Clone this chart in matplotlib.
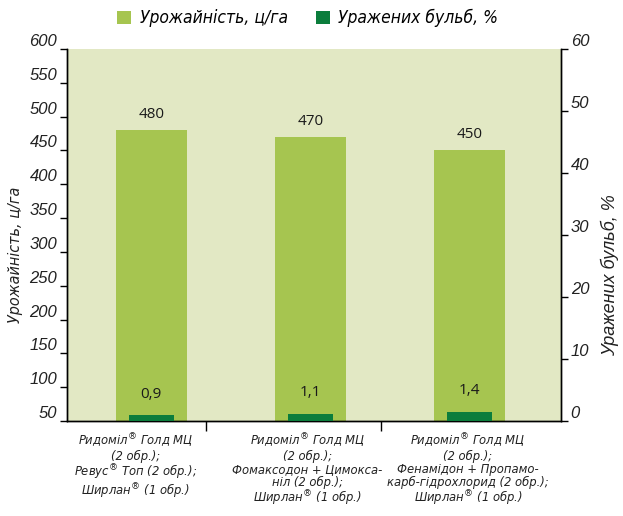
import matplotlib
matplotlib.use("Agg")
import matplotlib.pyplot as plt
from matplotlib.patches import Patch
import numpy as np

categories = [
    "Ридоміл$^{\\circledR}$ Голд МЦ\n(2 обр.);\nРевус$^{\\circledR}$ Топ (2 обр.);\nШирлан$^{\\circledR}$ (1 обр.)",
    "Ридоміл$^{\\circledR}$ Голд МЦ\n(2 обр.);\nФомаксодон + Цимокса-\nніл (2 обр.);\nШирлан$^{\\circledR}$ (1 обр.)",
    "Ридоміл$^{\\circledR}$ Голд МЦ\n(2 обр.);\nФенамідон + Пропамо-\nкарб-гідрохлорид (2 обр.);\nШирлан$^{\\circledR}$ (1 обр.)",
]
yield_values = [480, 470, 450]
damaged_values = [0.9, 1.1, 1.4]
yield_label = "Урожайність, ц/га"
damaged_label = "Уражених бульб, %"
left_ticks = list(range(50, 601, 50))
right_ticks = list(range(0, 61, 10))

LIGHT = "#A6C550"
DARK = "#0B7D3C"
BG = "#E2E8C4"

sans = ["Liberation Sans", "DejaVu Sans"]

fig = plt.figure(figsize=(6.23, 5.16), dpi=100)
ax = fig.add_axes([0.1075, 0.184, 0.793, 0.721])
ax.set_facecolor(BG)
ax2 = ax.twinx()

x = np.arange(len(categories))
ax.bar(x, yield_values, width=0.45, color=LIGHT, zorder=2)
ax2.bar(x, damaged_values, width=0.28, color=DARK, zorder=3)

ax.set_xlim(-0.53, 2.575)
ax.set_ylim(50, 600)
ax2.set_ylim(0, 60)

for xi, v in zip(x, yield_values):
    ax.annotate(f"{v}", (xi, v), xytext=(0, 6), textcoords="offset points",
                ha="center", va="bottom", fontsize=11, family=["Open Sans", "DejaVu Sans"],
                color="#1a1a1a")
for xi, v in zip(x, damaged_values):
    ax2.annotate(f"{v}".replace(".", ","), (xi, v), xytext=(0, 10), textcoords="offset points",
                 ha="center", va="bottom", fontsize=11, family=["Open Sans", "DejaVu Sans"],
                 color="#1a1a1a")

# y axes
ax.set_yticks(left_ticks)
ax.set_yticklabels([str(t) for t in left_ticks])
ax2.set_yticks(right_ticks)
ax2.set_yticklabels([str(t) for t in right_ticks])
ax.tick_params(axis="y", direction="out", length=5, width=1, pad=2, labelsize=12)
ax2.tick_params(axis="y", direction="out", length=5, width=1, pad=2, labelsize=12)
for lab in ax.get_yticklabels() + ax2.get_yticklabels():
    lab.set_fontstyle("italic")
    lab.set_family(sans)
    lab.set_verticalalignment("bottom")
    lab.set_color("#222222")

# x axis: category labels and separator ticks
label_pos = x + np.array([-0.10, -0.02, -0.01])
ax.set_xticks(label_pos)
ax.set_xticklabels(categories, fontsize=9.3, fontstyle="italic", family="DejaVu Sans",
                   fontstretch="condensed", linespacing=0.98, color="#222222")
ax.tick_params(axis="x", which="major", length=0, pad=8)
ax.set_xticks([0.343, 1.443], minor=True)
ax.tick_params(axis="x", which="minor", direction="out", length=7, width=1)

for a in (ax, ax2):
    a.spines["top"].set_visible(False)
    for s in ("left", "right", "bottom"):
        a.spines[s].set_color("black")
        a.spines[s].set_linewidth(1)

ax.set_ylabel(yield_label, fontsize=11.5, fontstyle="italic", family="DejaVu Sans",
              fontstretch="condensed", color="#222222")
ax.yaxis.set_label_coords(-0.089, 0.446)
ax2.set_ylabel(damaged_label, fontsize=13, fontstyle="italic", family=sans, color="#222222")
ax2.yaxis.set_label_coords(1.08, 0.392)

handles = [Patch(facecolor=LIGHT, edgecolor="none"), Patch(facecolor=DARK, edgecolor="none")]
fig.legend(handles, [yield_label, damaged_label], loc="center", bbox_to_anchor=(0.494, 0.965),
           ncol=2, frameon=False, handlelength=0.8, handleheight=0.8, handletextpad=0.5,
           columnspacing=1.6,
           prop={"family": "DejaVu Sans", "style": "italic", "size": 12.5, "stretch": "condensed"})

fig.savefig("out.png", dpi=100, facecolor="white")
